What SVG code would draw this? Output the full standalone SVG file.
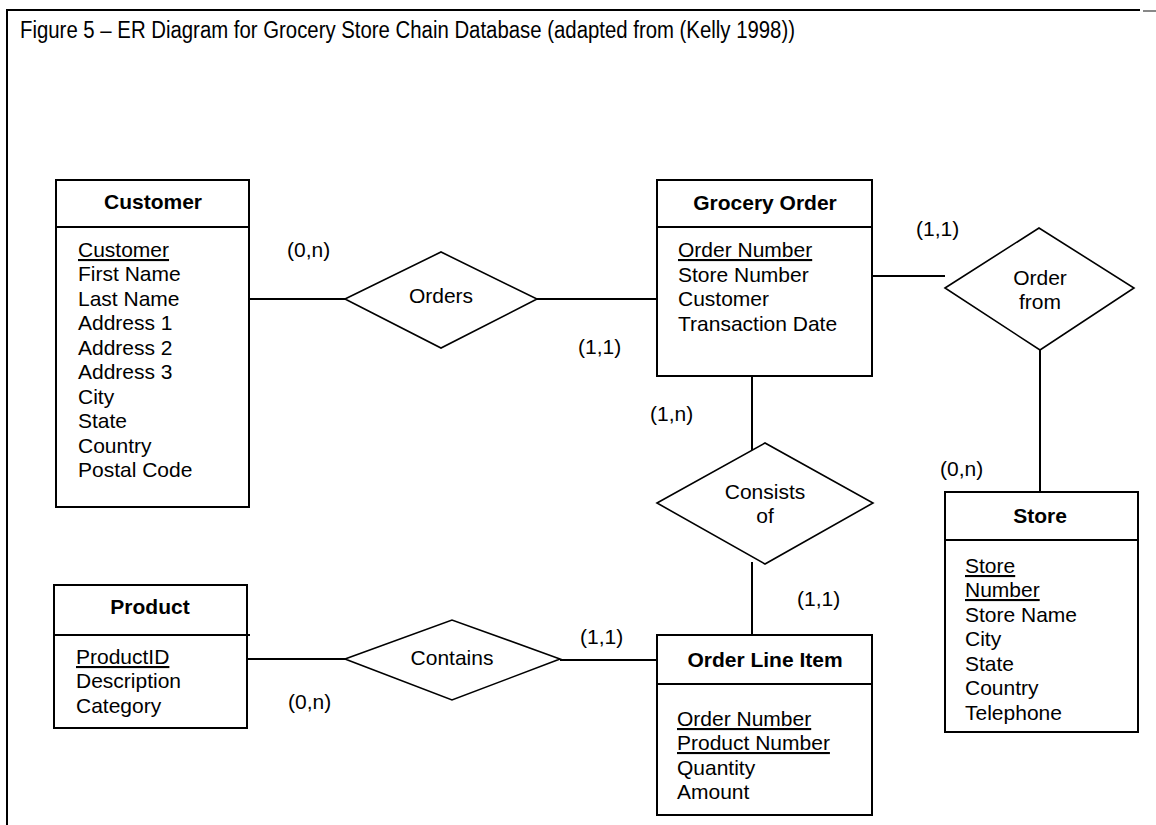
<svg xmlns="http://www.w3.org/2000/svg" width="1156" height="825" viewBox="0 0 1156 825">
<style>
.box{fill:#fff;stroke:#000;stroke-width:2}
.ln{stroke:#000;stroke-width:2;fill:none}
.dia{fill:#fff;stroke:#000;stroke-width:1.6}
text{font-family:"Liberation Sans",Arial,sans-serif;font-size:21px;fill:#000}
.t{font-weight:bold;text-anchor:middle}
.c{text-anchor:middle}
.u{text-decoration:underline}
.ttl{font-size:23px}
</style>
<rect width="1156" height="825" fill="#fff"/>
<g id="frame">
<line x1="6" y1="10" x2="1140" y2="10" class="ln"/>
<line x1="1143" y1="11" x2="1156" y2="11" stroke="#888" stroke-width="2"/>
<line x1="7" y1="9" x2="7" y2="825" class="ln"/>
<text x="20" y="38" class="ttl" textLength="775" lengthAdjust="spacingAndGlyphs">Figure 5 – ER Diagram for Grocery Store Chain Database (adapted from (Kelly 1998))</text>
</g>
<g id="connectors">
<line x1="249" y1="299" x2="345" y2="299" class="ln"/>
<line x1="537" y1="299" x2="657" y2="299" class="ln"/>
<line x1="872" y1="276" x2="945" y2="276" class="ln"/>
<line x1="1040" y1="350" x2="1040" y2="492" class="ln"/>
<line x1="752" y1="376" x2="752" y2="450" class="ln"/>
<line x1="752" y1="562" x2="752" y2="635" class="ln"/>
<line x1="247" y1="659" x2="345" y2="659" class="ln"/>
<line x1="560" y1="660" x2="657" y2="660" class="ln"/>
<text x="287" y="257">(0,n)</text>
<text x="578" y="354">(1,1)</text>
<text x="916" y="236">(1,1)</text>
<text x="940" y="476">(0,n)</text>
<text x="650" y="421">(1,n)</text>
<text x="797" y="606">(1,1)</text>
<text x="580" y="644">(1,1)</text>
<text x="288" y="709">(0,n)</text>
</g>
<g id="customer">
<rect x="56" y="180" width="193" height="327" class="box"/>
<line x1="56" y1="227" x2="249" y2="227" class="ln"/>
<text x="153" y="209" class="t">Customer</text>
<text x="78" y="257" class="u">Customer</text>
<text x="78" y="281">First Name</text>
<text x="78" y="306">Last Name</text>
<text x="78" y="330">Address 1</text>
<text x="78" y="355">Address 2</text>
<text x="78" y="379">Address 3</text>
<text x="78" y="404">City</text>
<text x="78" y="428">State</text>
<text x="78" y="453">Country</text>
<text x="78" y="477">Postal Code</text>
</g>
<g id="grocery-order">
<rect x="657" y="180" width="215" height="196" class="box"/>
<line x1="657" y1="227" x2="872" y2="227" class="ln"/>
<text x="765" y="210" class="t">Grocery Order</text>
<text x="678" y="257" class="u">Order Number</text>
<text x="678" y="282">Store Number</text>
<text x="678" y="306">Customer</text>
<text x="678" y="331">Transaction Date</text>
</g>
<g id="orders">
<polygon points="345,299 441,252 537,299 441,348" class="dia"/>
<text x="441" y="303" class="c">Orders</text>
</g>
<g id="order-from">
<polygon points="945,288 1039,228 1134,288 1040,350" class="dia"/>
<text x="1040" y="285" class="c">Order</text>
<text x="1040" y="309" class="c">from</text>
</g>
<g id="store">
<rect x="945" y="492" width="193" height="240" class="box"/>
<line x1="945" y1="540" x2="1138" y2="540" class="ln"/>
<text x="1040" y="523" class="t">Store</text>
<text x="965" y="573" class="u">Store</text>
<text x="965" y="597" class="u">Number</text>
<text x="965" y="622">Store Name</text>
<text x="965" y="646">City</text>
<text x="965" y="671">State</text>
<text x="965" y="695">Country</text>
<text x="965" y="720">Telephone</text>
</g>
<g id="consists-of">
<polygon points="657,503 765,443 873,503 765,564" class="dia"/>
<text x="765" y="499" class="c">Consists</text>
<text x="765" y="523" class="c">of</text>
</g>
<g id="order-line-item">
<rect x="657" y="635" width="215" height="180" class="box"/>
<line x1="657" y1="684" x2="872" y2="684" class="ln"/>
<text x="765" y="667" class="t">Order Line Item</text>
<text x="677" y="726" class="u">Order Number</text>
<text x="677" y="750" class="u">Product Number</text>
<text x="677" y="775">Quantity</text>
<text x="677" y="799">Amount</text>
</g>
<g id="product">
<rect x="54" y="585" width="193" height="143" class="box"/>
<line x1="54" y1="635" x2="250" y2="635" class="ln"/>
<text x="150" y="614" class="t">Product</text>
<text x="76" y="664" class="u">ProductID</text>
<text x="76" y="688">Description</text>
<text x="76" y="713">Category</text>
</g>
<g id="contains">
<polygon points="345,659 452,620 560,659 452,700" class="dia"/>
<text x="452" y="665" class="c">Contains</text>
</g>
</svg>
